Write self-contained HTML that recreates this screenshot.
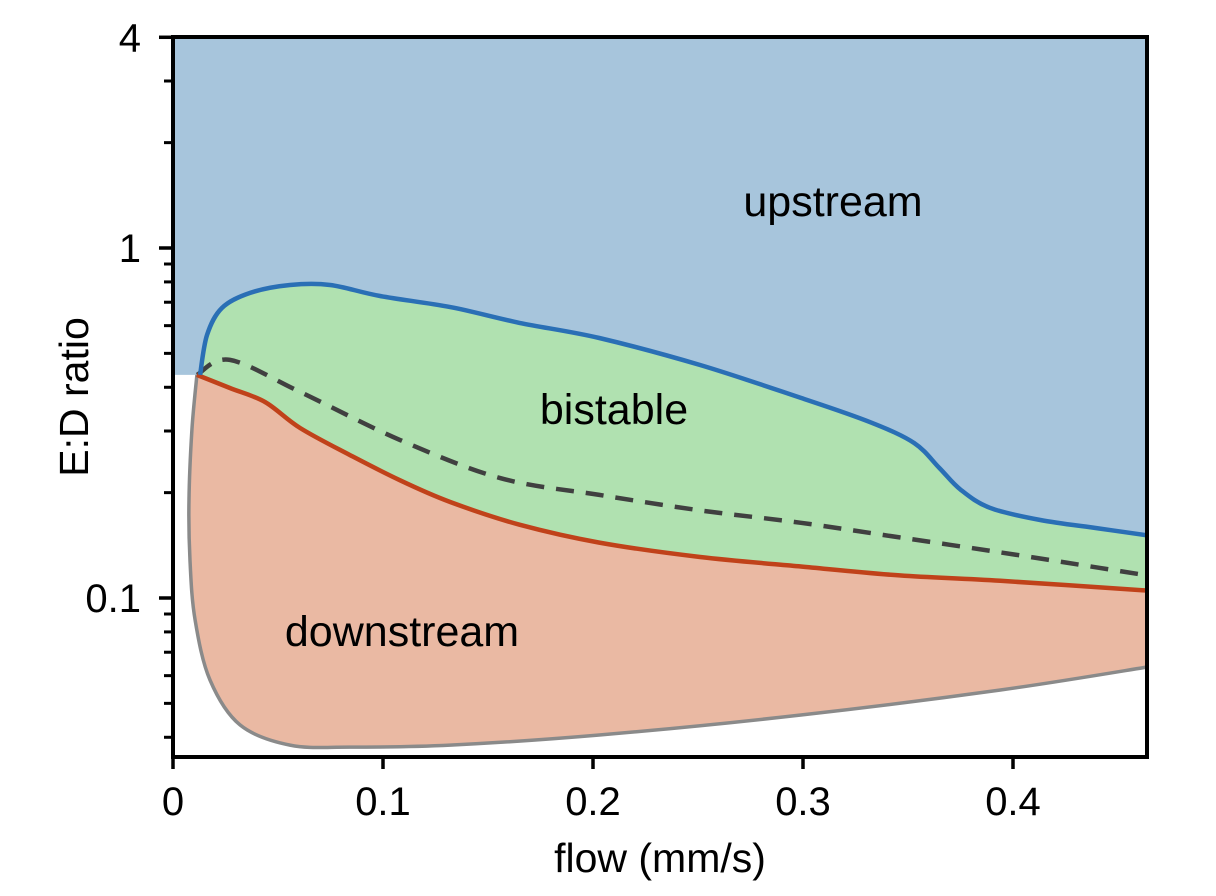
<!DOCTYPE html>
<html><head><meta charset="utf-8"><style>
body{margin:0;background:#fff;}
svg{display:block;font-family:"Liberation Sans",sans-serif;}
</style></head><body>
<svg id="chart" width="1216" height="896" viewBox="0 0 1216 896" xmlns="http://www.w3.org/2000/svg">
<g id="fills"></g>
<g id="lines"></g>
<g id="axes"></g>
<text x="833" y="216" font-size="43" text-anchor="middle">upstream</text>
<text x="614" y="424" font-size="43" text-anchor="middle">bistable</text>
<text x="402" y="646" font-size="43" text-anchor="middle">downstream</text>
<text x="660" y="872" font-size="41" text-anchor="middle">flow (mm/s)</text>
<text x="0" y="0" font-size="41" text-anchor="middle" transform="translate(88,397) rotate(-90)">E:D ratio</text>
</svg>
<script>
const blueX=[0.0129,0.0162,0.0233,0.0367,0.0557,0.0748,0.0986,0.132,0.165,0.203,0.251,0.299,0.332,0.353,0.365,0.375,0.389,0.413,0.441,0.464];
const blueY=[0.434,0.564,0.674,0.744,0.784,0.784,0.729,0.678,0.611,0.553,0.463,0.373,0.318,0.277,0.235,0.204,0.181,0.167,0.158,0.151];
const redX=[0.0114,0.0271,0.0438,0.0605,0.0843,0.108,0.132,0.165,0.203,0.251,0.299,0.346,0.394,0.464];
const redY=[0.434,0.398,0.363,0.306,0.256,0.217,0.188,0.162,0.144,0.131,0.123,0.116,0.112,0.105];
const dashX=[0.0114,0.0271,0.0605,0.108,0.156,0.203,0.251,0.299,0.346,0.394,0.441,0.464];
const dashY=[0.434,0.479,0.388,0.283,0.220,0.197,0.178,0.164,0.149,0.135,0.122,0.116];
const grayX=[0.0114,0.009,0.0076,0.0081,0.0105,0.0176,0.0319,0.0557,0.0843,0.132,0.203,0.299,0.394,0.464];
const grayY=[0.434,0.302,0.191,0.128,0.0866,0.0583,0.0434,0.038,0.0375,0.038,0.0406,0.0463,0.0546,0.0635];
const xTicks=[0,0.1,0.2,0.3,0.4];
const xTickLabels=["0","0.1","0.2","0.3","0.4"];
const yTicks=[4,1,0.1];
const yTickLabels=["4","1","0.1"];
const yMinor=[3,2,0.9,0.8,0.7,0.6,0.5,0.4,0.3,0.2,0.09,0.08,0.07,0.06,0.05,0.04];
const thresholdY=0.434;

const L=173,R=1147,T=37,B=757;
const xs=v=>L+v*2100;
const ys=v=>248-Math.log10(v)*350;
const NS="http://www.w3.org/2000/svg";
function pts(X,Y){return X.map((x,i)=>[xs(x),ys(Y[i])]);}
function smooth(p,move){
  let d=(move?"M":"L")+p[0][0].toFixed(1)+","+p[0][1].toFixed(1);
  for(let i=0;i<p.length-1;i++){
    const p0=p[i-1]||p[i],p1=p[i],p2=p[i+1],p3=p[i+2]||p2;
    const c1=[p1[0]+(p2[0]-p0[0])/6,p1[1]+(p2[1]-p0[1])/6];
    const c2=[p2[0]-(p3[0]-p1[0])/6,p2[1]-(p3[1]-p1[1])/6];
    d+="C"+c1.map(n=>n.toFixed(1))+" "+c2.map(n=>n.toFixed(1))+" "+p2.map(n=>n.toFixed(1));
  }
  return d;
}
function mk(tag,attrs,parent){const e=document.createElementNS(NS,tag);for(const k in attrs)e.setAttribute(k,attrs[k]);document.getElementById(parent).appendChild(e);return e;}
const bP=pts(blueX,blueY),rP=pts(redX,redY),dP=pts(dashX,dashY),gP=pts(grayX,grayY);
const rev=a=>a.slice().reverse();

const fb=mk("path",{d:"M"+L+","+T+"L"+R+","+T+smooth(rev(bP),false)+"L"+L+","+ys(thresholdY)+"Z",fill:"#a7c5dc"},"fills");


const fg=mk("path",{d:smooth(bP,true)+smooth(rev(rP),false)+"Z",fill:"#b0e1b0"},"fills");


const fr=mk("path",{d:smooth(rP,true)+smooth(rev(gP),false)+"Z",fill:"#eab9a3"},"fills");



const lg=mk("path",{d:smooth(gP,true),fill:"none",stroke:"#8a8a8a","stroke-width":3.5},"lines");


const ld=mk("path",{d:smooth(dP,true),fill:"none",stroke:"#404040","stroke-width":4.5,"stroke-dasharray":"18 12"},"lines");


const lr=mk("path",{d:smooth(rP,true),fill:"none",stroke:"#c0421a","stroke-width":4.5},"lines");


const lb=mk("path",{d:smooth(bP,true),fill:"none",stroke:"#2a6fb5","stroke-width":4.5},"lines");



const fr2=mk("rect",{x:L,y:T,width:R-L,height:B-T,fill:"none",stroke:"#000","stroke-width":4},"axes");


xTicks.forEach((v,i)=>{
  const t=mk("line",{x1:xs(v),x2:xs(v),y1:B,y2:B+12,stroke:"#000","stroke-width":3.5},"axes");
  
  
  const tx=mk("text",{x:xs(v),y:B+58,"font-size":40,"text-anchor":"middle"},"axes");
  tx.textContent=xTickLabels[i];
  
  
});
yTicks.forEach((v,i)=>{
  const t=mk("line",{x1:L-14,x2:L,y1:ys(v),y2:ys(v),stroke:"#000","stroke-width":3.5},"axes");
  
  
  const tx=mk("text",{x:L-32,y:ys(v)+14,"font-size":40,"text-anchor":"end"},"axes");
  tx.textContent=yTickLabels[i];
  
  
});
yMinor.forEach(v=>{
  const t=mk("line",{x1:L-9,x2:L,y1:ys(v),y2:ys(v),stroke:"#000","stroke-width":3},"axes");
  
  
});
</script>
</body></html>
